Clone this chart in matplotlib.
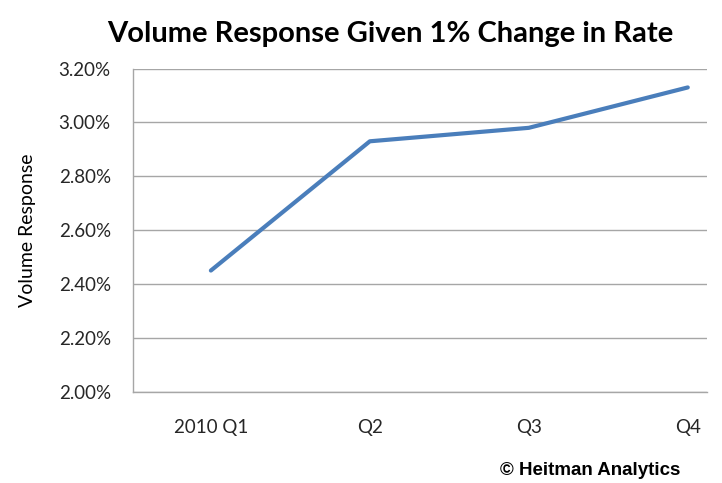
import matplotlib
matplotlib.use("Agg")
import matplotlib.pyplot as plt
from matplotlib.ticker import FuncFormatter

# quarterly volume response (percent) for a 1% change in rate
quarters = ["2010 Q1", "Q2", "Q3", "Q4"]
response = [2.45, 2.93, 2.98, 3.13]
y_ticks = [2.0, 2.2, 2.4, 2.6, 2.8, 3.0, 3.2]

fig = plt.figure(figsize=(7.22, 4.83), dpi=100)
ax = fig.add_axes([0.1842, 0.189, 0.7948, 0.669])

x = list(range(len(quarters)))
ax.plot(x, response, color="#4A7EBB", linewidth=3, solid_capstyle="round", zorder=3)

ax.set_ylim(2.0, 3.2)
ax.set_xlim(-0.49, 3.12)
ax.set_yticks(y_ticks)
ax.yaxis.set_major_formatter(FuncFormatter(lambda v, _: f"{v:.2f}%"))
ax.set_xticks(x)
ax.set_xticklabels(quarters)

grid_color = "#A6A6A6"
ax.grid(axis="y", color=grid_color, linewidth=1)
ax.set_axisbelow(True)
for side in ("top", "right"):
    ax.spines[side].set_visible(False)
for side in ("left", "bottom"):
    ax.spines[side].set_color(grid_color)
    ax.spines[side].set_linewidth(1)

ax.tick_params(axis="both", length=0, labelsize=13.5, colors="#262626")
ax.tick_params(axis="y", pad=16)
ax.tick_params(axis="x", pad=20)
for lbl in ax.get_xticklabels() + ax.get_yticklabels():
    lbl.set_fontfamily("Lato")

ax.set_ylabel("Volume Response", fontsize=14, fontfamily="Lato", labelpad=16, color="black")

fig.text(0.54, 0.93, "Volume Response Given 1% Change in Rate", ha="center", va="center",
         fontsize=21, fontweight="bold", fontfamily="Lato")
fig.text(0.942, 0.025, "\u00a9 Heitman Analytics", ha="right", va="center",
         fontsize=13.5, fontweight="bold", fontfamily="Liberation Sans")

fig.savefig("out.png", dpi=100)
